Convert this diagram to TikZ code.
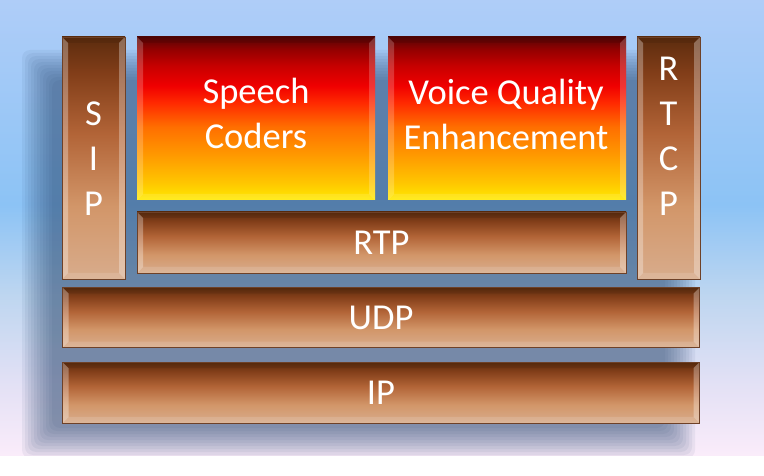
\documentclass[tikz,border=0pt]{standalone}
\usepackage{fontspec}
\setmainfont{Carlito}
\usetikzlibrary{calc}

\definecolor{bga}{RGB}{250,236,250}
\definecolor{bgb}{RGB}{228,225,245}
\definecolor{bgc}{RGB}{190,214,240}
\definecolor{bgd}{RGB}{140,195,245}
\definecolor{bge}{RGB}{175,205,248}
\definecolor{shadowc}{RGB}{40,70,110}

\definecolor{bra}{RGB}{216,172,140}
\definecolor{brb}{RGB}{210,150,105}
\definecolor{brc}{RGB}{178,100,55}
\definecolor{brd}{RGB}{130,62,25}
\definecolor{bre}{RGB}{92,44,14}
\definecolor{bredge}{RGB}{110,65,40}

\definecolor{ora}{RGB}{255,235,0}
\definecolor{orb}{RGB}{255,200,0}
\definecolor{orc}{RGB}{255,160,0}
\definecolor{ord}{RGB}{255,110,0}
\definecolor{ore}{RGB}{255,40,0}
\definecolor{orf}{RGB}{240,0,0}
\definecolor{org}{RGB}{200,0,0}
\definecolor{orh}{RGB}{150,0,0}
\definecolor{ori}{RGB}{85,5,5}

\pgfdeclareverticalshading{bgshade}{100bp}{color(0bp)=(bga); color(25bp)=(bga); color(32.5bp)=(bgb); color(42.5bp)=(bgc); color(52.5bp)=(bgd); color(75bp)=(bge); color(100bp)=(bge)}
\pgfdeclareverticalshading{brownshade}{100bp}{color(0bp)=(bra); color(25bp)=(bra); color(40bp)=(brb); color(55bp)=(brc); color(67.5bp)=(brd); color(75bp)=(bre); color(100bp)=(bre)}
\pgfdeclareverticalshading{orangeshade}{100bp}{color(0bp)=(ora); color(25bp)=(ora); color(30bp)=(orb); color(37.5bp)=(orc); color(47.5bp)=(ord); color(55bp)=(ore); color(60bp)=(orf); color(66bp)=(org); color(71bp)=(orh); color(75bp)=(ori); color(100bp)=(ori)}

\tikzset{
  layer/.style={inner sep=0pt, outer sep=0pt},
  bevel/.style={path picture={
    \fill[white, opacity=#1] (path picture bounding box.north west) -- ++(6pt,-6pt)
      -- ($(path picture bounding box.south west)+(6pt,6pt)$) -- (path picture bounding box.south west) -- cycle;
    \fill[white, opacity=#1] (path picture bounding box.north east) -- ++(-6pt,-6pt)
      -- ($(path picture bounding box.south east)+(-6pt,6pt)$) -- (path picture bounding box.south east) -- cycle;
    \fill[black, opacity=0.08] (path picture bounding box.north west) -- ++(6pt,-6pt)
      -- ($(path picture bounding box.north east)+(-6pt,-6pt)$) -- (path picture bounding box.north east) -- cycle;
    \fill[white, opacity=0.12] (path picture bounding box.south west) -- ++(6pt,6pt)
      -- ($(path picture bounding box.south east)+(-6pt,6pt)$) -- (path picture bounding box.south east) -- cycle;
  }},
  brownbox/.style={layer, shade, shading=brownshade, draw=bredge, line width=0.5pt, bevel=0.3},
  orangebox/.style={layer, shade, shading=orangeshade, bevel=0.2},
  lbl/.style={text=white, font=\fontsize{36.5}{45}\selectfont, align=center, inner sep=0pt}
}

\begin{document}
\begin{tikzpicture}[x=1pt,y=-1pt]
\useasboundingbox (0,0) rectangle (764,476);
\fill[white] (0,0) rectangle (764,476);
\shade[shading=bgshade] (0,0) rectangle (764,455);

% soft shadow behind the stack
\begin{scope}
  \clip (0,0) rectangle (764,455);
  \foreach \i in {0,...,10} {
    \fill[shadowc, fill opacity=0.065, rounded corners=8pt]
      (22+3*\i,50+3*\i) rectangle (695-3*\i,458-3*\i);
  }
\end{scope}

% boxes
\node[brownbox, minimum width=63pt, minimum height=242pt] (sip) at (93.5,158) {};
\node[orangebox, minimum width=238pt, minimum height=163pt] (coders) at (256,118.5) {};
\node[orangebox, minimum width=238pt, minimum height=163pt] (vqe) at (507,118.5) {};
\node[brownbox, minimum width=63pt, minimum height=242pt] (rtcp) at (668.5,158) {};
\node[brownbox, minimum width=489pt, minimum height=61pt] (rtp) at (381.5,242.5) {};
\node[brownbox, minimum width=637pt, minimum height=60pt] (udp) at (381,317.5) {};
\node[brownbox, minimum width=637pt, minimum height=61pt] (ip) at (381,392.5) {};

% labels
\node[lbl] (sipl) at (93.5,158.5) {S\\I\\P};
\node[lbl] (rtcpl) at (668.5,136) {R\\T\\C\\P};
\node[lbl] (codersl) at (256,113) {Speech\\Coders};
\node[lbl] (vqel) at (506,114) {Voice Quality\\Enhancement};
\node[lbl] (rtpl) at (rtp.center) {RTP};
\node[lbl] (udpl) at (udp.center) {UDP};
\node[lbl] (ipl) at (ip.center) {IP};
\end{tikzpicture}
\end{document}
